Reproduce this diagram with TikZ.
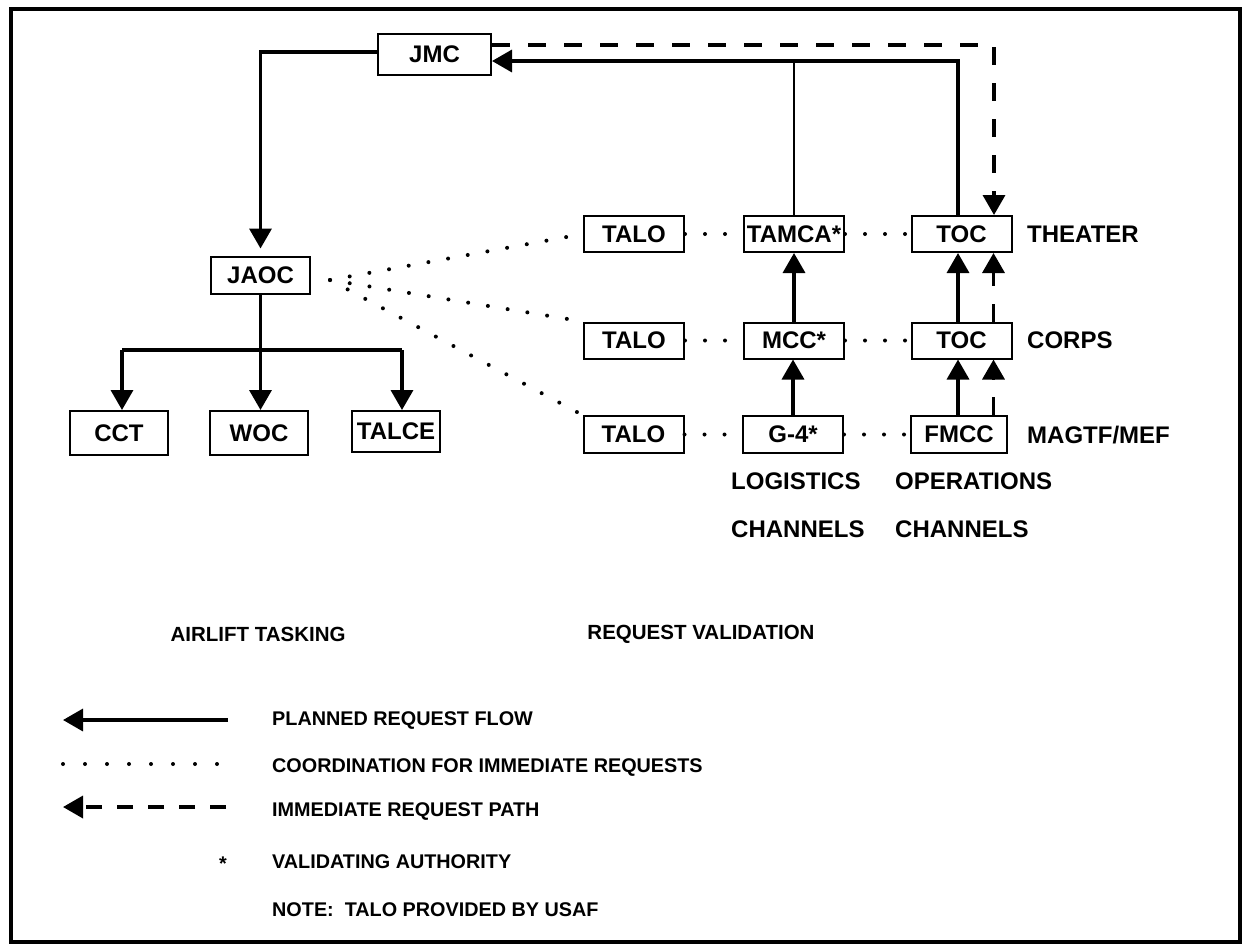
\documentclass[tikz,border=0pt]{standalone}
\usepackage{fontspec}
\setmainfont{Liberation Sans}
\usetikzlibrary{arrows.meta}
\newcommand\boxfont{\fontsize{24}{28}\selectfont\bfseries}
\newcommand\headfont{\fontsize{20.5}{24}\selectfont\bfseries}
\newcommand\legfont{\fontsize{19.8}{23}\selectfont\bfseries}
\begin{document}
\begin{tikzpicture}[x=1pt,y=-1pt,
  box/.style={draw,line width=2pt,minimum width=100pt,minimum height=36pt,inner sep=0pt,font=\boxfont},
  lbl/.style={anchor=west,inner sep=0pt,font=\boxfont},
  head/.style={inner sep=0pt,font=\headfont},
  leg/.style={anchor=west,inner sep=0pt,font=\legfont},
  tip/.style={-{Triangle[length=20pt,width=22pt]}},
  solidline/.style={line width=3.5pt},
  thinline/.style={line width=1.6pt},
  dashline/.style={line width=3.5pt,dash pattern=on 18pt off 18pt},
  dotline/.style={line width=4pt,line cap=round,dash pattern=on 0pt off 20pt},
]
\useasboundingbox (0,0) rectangle (1247,946);
\draw[line width=3.5pt] (11,9) rectangle (1240,942);

% left side
\node[box,minimum width=113pt,minimum height=41pt] (jmc) at (434.5,54.5) {JMC};
\node[box,minimum width=99pt,minimum height=37pt] (jaoc) at (260.5,275) {JAOC};
\node[box,minimum width=98pt,minimum height=44pt] (cct) at (119,433) {CCT};
\node[box,minimum width=98pt,minimum height=44pt] (woc) at (259,433) {WOC};
\node[box,minimum width=88pt,minimum height=41pt] (talce) at (396,431.5) {TALCE};

% right side
\node[box] (talo1) at (634,234) {TALO};
\node[box] (tamca) at (794,234) {TAMCA*};
\node[box] (toc1) at (961.5,234) {TOC};
\node[box] (talo2) at (634,340.5) {TALO};
\node[box] (mcc) at (794,340.5) {MCC*};
\node[box] (toc2) at (961.5,340.5) {TOC};
\node[box,minimum height=37pt] (talo3) at (633.5,434.5) {TALO};
\node[box,minimum height=37pt] (g4) at (793,434.5) {G-4*};
\node[box,minimum width=96pt,minimum height=37pt] (fmcc) at (959,434.5) {FMCC};

\node[lbl] (theater) at (1027,234) {THEATER};
\node[lbl] (corps) at (1027,340.5) {CORPS};
\node[lbl] (magtf) at (1027,435) {MAGTF/MEF};
\node[lbl] (logi) at (731,481) {LOGISTICS};
\node[lbl] (oper) at (895,481) {OPERATIONS};
\node[lbl] (ch1) at (731,529) {CHANNELS};
\node[lbl] (ch2) at (895,529) {CHANNELS};

\node[head] (airlift) at (258,634) {AIRLIFT TASKING};
\node[head] (reqval) at (701,634) {REQUEST VALIDATION};

% JMC -> JAOC
\draw[solidline,tip,shorten >=7pt] ([yshift=2.5pt]jmc.west) -| (jaoc.north);
% JAOC -> children
\coordinate (hl) at (122,350);
\coordinate (hr) at (402,350);
\draw[solidline] (hl) -- (hr);
\draw[solidline,tip] (jaoc.south) -- (jaoc.south |- woc.north);
\draw[solidline,tip] (hl) -- (hl |- cct.north);
\draw[solidline,tip] (hr) -- (hr |- talce.north);

% planned request flow
\draw[solidline,tip] ([xshift=-3.5pt]toc1.north) |- ([yshift=-6.5pt]jmc.east);
\draw[thinline] (tamca.north) -- ++(0,-155);
\draw[solidline,tip] (g4.north) -- (g4.north |- mcc.south);
\draw[solidline,tip] (mcc.north) -- (mcc.north |- tamca.south);
\draw[solidline,tip] ([xshift=-3.5pt]toc2.south |- fmcc.north) -- ([xshift=-3.5pt]toc2.south);
\draw[solidline,tip] ([xshift=-3.5pt]toc2.north) -- ([xshift=-3.5pt]toc1.south);

% immediate request path
\draw[dashline,tip] ([yshift=9.5pt]jmc.east) -| ([xshift=32.5pt]toc1.north);
\draw[dashline,tip] ([xshift=32pt]toc2.south |- fmcc.north) -- ([xshift=32pt]toc2.south);
\draw[dashline,tip] ([xshift=32pt]toc2.north) -- ([xshift=32pt]toc1.south);

% coordination
\coordinate (fan) at (330,280);
\draw[dotline] (fan) -- (talo1.west);
\draw[dotline] (fan) -- (talo2.north west);
\draw[dotline] (fan) -- (talo3.north west);
\draw[dotline] (talo1.east) -- (tamca.west);
\draw[dotline] (tamca.east) -- (toc1.west);
\draw[dotline] (talo2.east) -- (mcc.west);
\draw[dotline] (mcc.east) -- (toc2.west);
\draw[dotline] (talo3.east) -- (g4.west);
\draw[dotline] (g4.east) -- (fmcc.west);

% legend
\coordinate (l1a) at (63,720); \coordinate (l1b) at (228,720);
\coordinate (l2a) at (63,764); \coordinate (l2b) at (218,764);
\coordinate (l3a) at (63,807); \coordinate (l3b) at (226,807);
\draw[solidline,tip] (l1b) -- (l1a);
\draw[dotline,dash pattern=on 0pt off 22pt] (l2a) -- (l2b);
\draw[line width=3.5pt,dash pattern=on 16pt off 15pt,tip] (l3b) -- (l3a);
\node[inner sep=0pt,font=\legfont] (star) at (223,864) {*};
\node[leg] (t1) at (272,721) {PLANNED REQUEST FLOW};
\node[leg] (t2) at (272,768) {COORDINATION FOR IMMEDIATE REQUESTS};
\node[leg] (t3) at (272,812) {IMMEDIATE REQUEST PATH};
\node[leg] (t4) at (272,862) {VALIDATING AUTHORITY};
\node[leg] (t5) at (272,910) {NOTE:\ \ TALO PROVIDED BY USAF};
\end{tikzpicture}
\end{document}
